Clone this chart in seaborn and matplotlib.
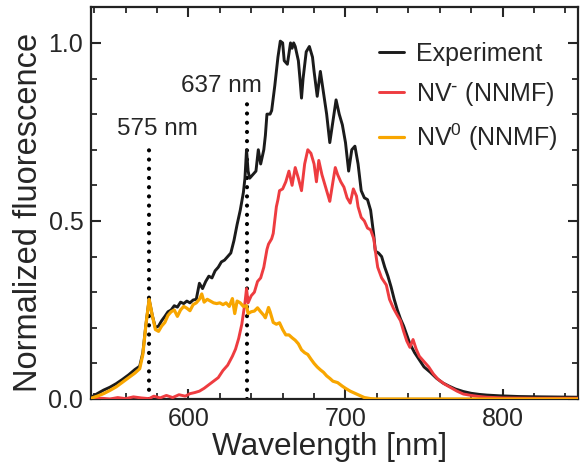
import matplotlib
matplotlib.use("Agg")
import matplotlib.pyplot as plt
from matplotlib.ticker import MultipleLocator
import seaborn as sns

# Measured emission spectrum (black)
exp_wl = [538, 542, 546, 550, 554, 558, 562, 566, 569, 571, 573, 575, 577, 579, 581,
          583, 585, 587, 589, 591, 593, 595, 597, 599, 601, 603, 605, 607, 609, 611,
          613, 615, 617, 619, 621, 623, 625, 627, 629, 631, 633, 635, 636, 637, 638,
          639, 641, 643, 644.5, 646, 648, 649, 650, 652, 653, 655, 657, 658.5, 660, 661,
          663, 664, 665, 666, 667, 668, 670, 671, 672, 673, 675, 677, 679, 680, 682,
          684, 686, 688, 690, 692, 694, 696, 698, 700, 702, 704, 706, 708, 710, 712,
          714, 716, 718, 719, 721, 723, 725, 727, 729, 731, 733, 735, 737, 739, 741,
          744, 747, 750, 754, 758, 762, 766, 770, 775, 780, 785, 790, 798, 810, 825, 848]
exp_val = [0.005, 0.015, 0.025, 0.033, 0.043, 0.055, 0.068, 0.083, 0.092, 0.13, 0.21, 0.28, 0.235, 0.20, 0.205,
           0.22, 0.232, 0.245, 0.25, 0.262, 0.258, 0.272, 0.268, 0.275, 0.27, 0.278, 0.28, 0.325, 0.31, 0.33,
           0.345, 0.34, 0.36, 0.37, 0.385, 0.39, 0.40, 0.41, 0.445, 0.49, 0.53, 0.58, 0.62, 0.70, 0.64,
           0.62, 0.63, 0.64, 0.70, 0.66, 0.70, 0.74, 0.80, 0.80, 0.81, 0.88, 0.96, 1.005, 1.0, 0.95,
           0.94, 0.97, 1.0, 0.985, 1.0, 0.99, 0.95, 0.90, 0.845, 0.90, 0.975, 0.99, 0.96, 0.92, 0.85,
           0.92, 0.86, 0.80, 0.72, 0.78, 0.84, 0.80, 0.77, 0.72, 0.64, 0.70, 0.71, 0.66, 0.585, 0.565,
           0.56, 0.53, 0.46, 0.415, 0.41, 0.40, 0.37, 0.345, 0.315, 0.28, 0.25, 0.225, 0.205, 0.18, 0.155,
           0.13, 0.11, 0.09, 0.075, 0.058, 0.045, 0.036, 0.028, 0.021, 0.016, 0.013, 0.011, 0.009, 0.007, 0.006, 0.005]

# NV- component from non-negative matrix factorisation (red)
nvm_wl = [538, 545, 550, 555, 560, 565, 570, 575, 578, 582, 586, 590, 594, 598, 601,
          604, 607, 610, 613, 616, 619, 622, 625, 628, 630, 632, 634, 636, 637, 638,
          640, 642, 644, 646, 648, 650, 651, 653, 654, 656, 657, 658, 660, 662, 664,
          666, 668, 670, 672, 674, 676, 678, 680, 681.5, 683, 685, 687, 689, 690, 692,
          693.5, 695, 697, 699, 701, 703, 705, 707, 708, 710, 712, 714, 716, 718, 719.5,
          720.5, 723, 726, 728, 730.5, 733, 735, 737, 739, 741, 743, 745, 747, 750, 753,
          756, 759, 763, 767, 771, 775, 780, 785, 790, 800, 820, 848]
nvm_val = [0.0, 0.002, 0.0, 0.004, 0.001, 0.006, 0.003, 0.001, 0.008, 0.003, 0.01, 0.004, 0.012, 0.008, 0.015,
           0.018, 0.022, 0.03, 0.04, 0.05, 0.06, 0.08, 0.095, 0.12, 0.14, 0.17, 0.21, 0.27, 0.31, 0.27,
           0.29, 0.30, 0.33, 0.34, 0.37, 0.42, 0.435, 0.45, 0.465, 0.54, 0.56, 0.585, 0.59, 0.61, 0.64,
           0.60, 0.65, 0.62, 0.585, 0.66, 0.70, 0.69, 0.66, 0.61, 0.67, 0.63, 0.60, 0.57, 0.555, 0.61,
           0.65, 0.63, 0.61, 0.595, 0.565, 0.55, 0.59, 0.57, 0.54, 0.51, 0.50, 0.48, 0.475, 0.45, 0.40,
           0.37, 0.34, 0.32, 0.28, 0.255, 0.235, 0.22, 0.19, 0.163, 0.145, 0.167, 0.14, 0.12, 0.105, 0.09,
           0.07, 0.055, 0.042, 0.032, 0.022, 0.014, 0.01, 0.007, 0.005, 0.003, 0.002, 0.002]

# NV0 component from non-negative matrix factorisation (orange)
nv0_wl = [538, 542, 546, 550, 554, 558, 562, 566, 569, 571, 573, 575, 577, 579, 581,
          583, 585, 587, 589, 591, 593, 595, 597, 599, 601, 603, 605, 607, 608.5, 610,
          612, 614, 616, 618, 620, 622, 624, 626, 628, 629.5, 631, 633, 635, 637, 638,
          640, 642, 644, 646, 648, 649, 651, 652, 654, 656, 658, 660, 662, 664, 666,
          668, 670, 672, 674, 676, 678, 680, 682, 684, 686, 688, 690, 692, 695, 698,
          700, 703, 706, 709, 712, 716, 720, 848]
nv0_val = [0.002, 0.008, 0.015, 0.024, 0.034, 0.047, 0.06, 0.073, 0.085, 0.125, 0.21, 0.28, 0.235, 0.195, 0.19,
           0.205, 0.215, 0.235, 0.245, 0.25, 0.232, 0.25, 0.26, 0.255, 0.248, 0.265, 0.27, 0.28, 0.295, 0.272,
           0.28, 0.275, 0.27, 0.268, 0.27, 0.265, 0.27, 0.26, 0.282, 0.24, 0.275, 0.27, 0.26, 0.262, 0.24,
           0.245, 0.247, 0.256, 0.245, 0.235, 0.228, 0.257, 0.245, 0.215, 0.21, 0.214, 0.195, 0.18, 0.18, 0.172,
           0.165, 0.155, 0.138, 0.13, 0.125, 0.112, 0.10, 0.09, 0.082, 0.075, 0.065, 0.058, 0.05, 0.046, 0.036,
           0.03, 0.022, 0.016, 0.01, 0.004, 0.001, 0.0, 0.0]

# Zero-phonon lines
zpl_wl = [575, 637]
zpl_top = [0.71, 0.83]
zpl_text = ["575 nm", "637 nm"]

x_ticks = [600, 700, 800]
y_ticks = [0.0, 0.5, 1.0]

sns.set_style("ticks")
plt.rcParams["font.family"] = ["Liberation Sans", "DejaVu Sans"]
plt.rcParams["mathtext.default"] = "regular"

fig = plt.figure(figsize=(5.8, 4.67), dpi=100)
ax = fig.add_axes([91 / 580, 1 - 399 / 467, (578 - 91) / 580, (399 - 7.3) / 467])

black = "#1b1b1b"
red = "#ee3c40"
orange = "#f8a600"

sns.lineplot(x=exp_wl, y=exp_val, ax=ax, color=black, lw=2.1, label="Experiment", zorder=3)
sns.lineplot(x=nvm_wl, y=nvm_val, ax=ax, color=red, lw=2.1, label=r"NV$^{\text{-}}$ (NNMF)", zorder=4)
sns.lineplot(x=nv0_wl, y=nv0_val, ax=ax, color=orange, lw=2.3, label="NV$^{0}$ (NNMF)", zorder=5)

for wl, top in zip(zpl_wl, zpl_top):
    ax.plot([wl, wl], [0, top], color="black", lw=3.0, linestyle=(0, (0.01, 2.2)),
            dash_capstyle="round", zorder=2)

ax.text(554.5, 0.74, zpl_text[0], fontsize=17.5, ha="left", va="baseline")
ax.text(595, 0.862, zpl_text[1], fontsize=17.5, ha="left", va="baseline")

ax.set_xlim(538, 848)
ax.set_ylim(0, 1.1)
ax.set_xticks(x_ticks)
ax.set_yticks(y_ticks)
ax.set_xticklabels([str(t) for t in x_ticks])
ax.set_yticklabels([f"{t:.1f}" for t in y_ticks])
ax.xaxis.set_minor_locator(MultipleLocator(20))
ax.yaxis.set_minor_locator(MultipleLocator(0.1))

ax.tick_params(which="both", direction="in", top=True, right=True, labelsize=18, pad=5.5)
ax.tick_params(which="major", length=7, width=1.5)
ax.tick_params(which="minor", length=4, width=1.3)
for s in ax.spines.values():
    s.set_linewidth(1.6)
    s.set_color("#222222")

ax.set_xlabel("Wavelength [nm]", fontsize=22.7, labelpad=1)
ax.set_ylabel("Normalized fluorescence", fontsize=23.5, labelpad=3)
ax.xaxis.label.set_x(0.49)
ax.yaxis.label.set_y(0.476)

leg = ax.legend(loc="upper right", bbox_to_anchor=(1.0, 0.962), frameon=False, fontsize=18,
                handlelength=1.0, handletextpad=0.5, labelspacing=0.54, borderaxespad=0.4)

fig.savefig("out.png", dpi=100)
